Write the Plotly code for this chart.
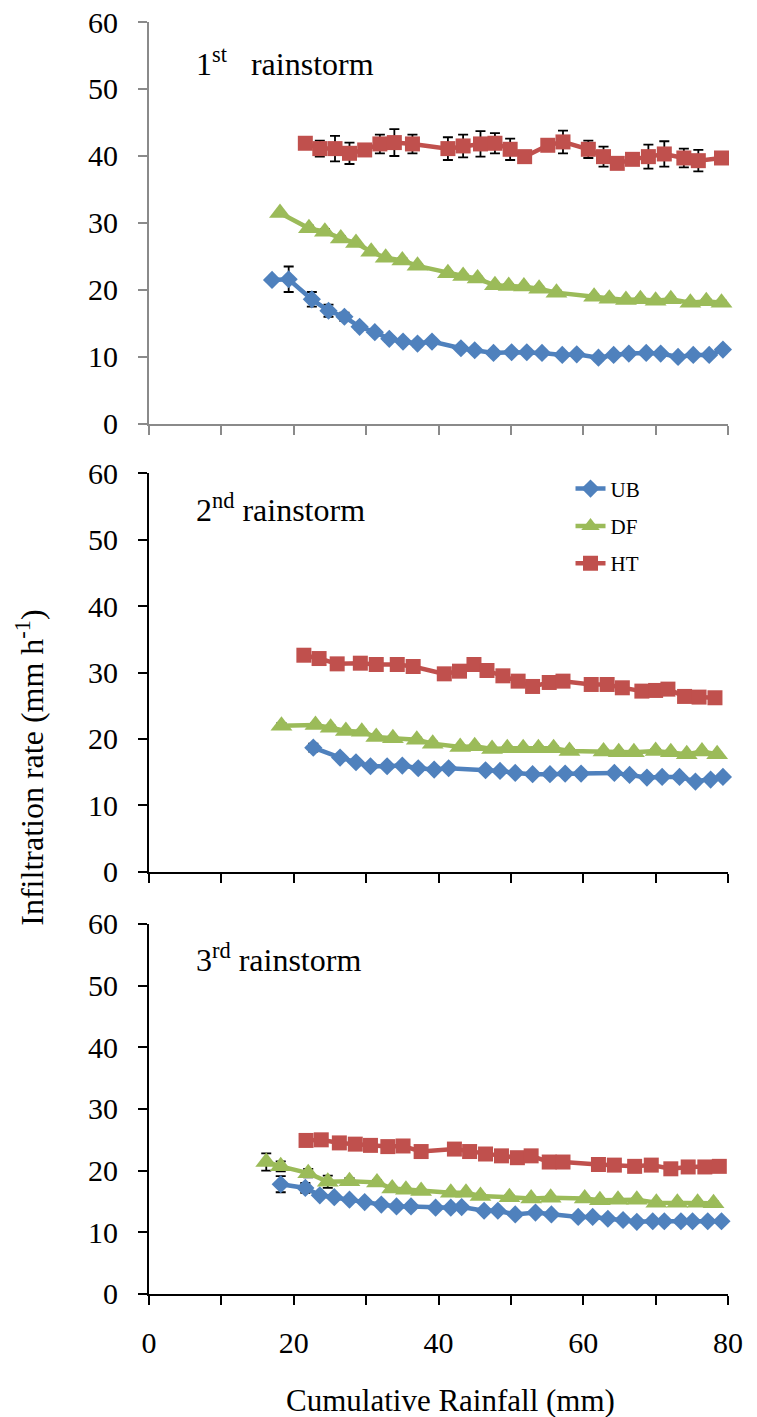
import plotly.graph_objects as go

# ---------------- data ----------------
series_names = ["UB", "DF", "HT"]
colors = {"UB": "#4F81BD", "DF": "#9BBB59", "HT": "#C0504D"}
symbols = {"UB": "diamond", "DF": "triangle-up", "HT": "square"}
msizes = {"UB": 14, "DF": 19, "HT": 15}

panel_labels = ["1<sup>st</sup>&nbsp;&nbsp; rainstorm", "2<sup>nd</sup> rainstorm", "3<sup>rd</sup> rainstorm"]
x_tick_vals = [0, 10, 20, 30, 40, 50, 60, 70, 80]
x_tick_text = ["0", " ", "20", " ", "40", " ", "60", " ", "80"]
y_tick_vals = [0, 10, 20, 30, 40, 50, 60]

# 1st rainstorm
rain1_ub = [17.0, 19.3, 22.5, 24.8, 27.0, 29.1, 31.2, 33.2, 35.1, 37.1, 39.1, 43.1, 45.0, 47.6, 50.1, 52.2, 54.3, 57.1, 59.1, 62.1, 64.2, 66.3, 68.7, 70.7, 73.1, 75.2, 77.4, 79.3]
inf1_ub = [21.5, 21.6, 18.6, 16.9, 16.0, 14.5, 13.7, 12.7, 12.3, 12.0, 12.3, 11.3, 11.0, 10.6, 10.7, 10.7, 10.6, 10.3, 10.4, 9.9, 10.3, 10.5, 10.6, 10.5, 10.0, 10.3, 10.3, 11.1]
err1_ub = [0.3, 1.9, 1.1, 0.9, 0.6, 0.4, 0.4, 0.4, 0.4, 0.4, 0.4, 0.4, 0.3, 0.4, 0.3, 0.3, 0.3, 0.3, 0.3, 0.4, 0.3, 0.3, 0.3, 0.3, 0.3, 0.3, 0.3, 0.3]

rain1_df = [18.1, 22.1, 24.3, 26.5, 28.6, 30.7, 32.7, 35.0, 37.1, 41.3, 43.4, 45.4, 47.8, 49.7, 51.8, 53.9, 56.3, 61.5, 63.6, 65.9, 67.9, 70.0, 72.1, 74.8, 77.0, 79.1]
inf1_df = [31.5, 29.2, 28.7, 27.7, 27.0, 25.7, 24.8, 24.4, 23.6, 22.5, 22.1, 21.7, 20.7, 20.6, 20.5, 20.2, 19.6, 19.0, 18.7, 18.5, 18.6, 18.4, 18.6, 18.1, 18.3, 18.1]
err1_df = [0.3, 0.4, 0.4, 0.3, 0.3, 0.3, 0.3, 0.3, 0.3, 0.3, 0.3, 0.3, 0.3, 0.3, 0.3, 0.3, 0.3, 0.3, 0.3, 0.3, 0.3, 0.3, 0.3, 0.3, 0.3, 0.3]

rain1_ht = [21.6, 23.6, 25.7, 27.7, 29.8, 31.9, 33.9, 36.4, 41.3, 43.4, 45.8, 47.8, 49.9, 51.9, 55.1, 57.2, 60.7, 62.8, 64.7, 66.8, 69.0, 71.2, 73.9, 75.9, 79.1]
inf1_ht = [41.9, 41.1, 41.1, 40.4, 40.9, 41.8, 42.0, 41.8, 41.1, 41.5, 41.8, 41.9, 41.0, 39.9, 41.6, 42.1, 41.0, 39.9, 38.9, 39.5, 39.9, 40.3, 39.7, 39.3, 39.7]
err1_ht = [0.5, 1.2, 1.9, 1.6, 0.6, 1.4, 2.0, 1.4, 1.7, 1.7, 1.9, 1.5, 1.6, 0.8, 0.5, 1.7, 1.3, 1.5, 0.5, 0.5, 1.8, 1.9, 1.4, 1.6, 0.3]

# 2nd rainstorm
rain2_ub = [22.7, 26.4, 28.6, 30.6, 32.9, 35.0, 37.2, 39.4, 41.4, 46.5, 48.5, 50.6, 53.0, 55.4, 57.5, 59.7, 64.3, 66.4, 68.8, 70.9, 73.3, 75.5, 77.6, 79.3]
inf2_ub = [18.7, 17.2, 16.5, 15.9, 15.9, 16.0, 15.6, 15.4, 15.6, 15.3, 15.2, 14.9, 14.7, 14.7, 14.8, 14.8, 14.9, 14.6, 14.2, 14.3, 14.3, 13.6, 13.9, 14.3]
err2_ub = [0.6, 0.3, 0.3, 0.3, 0.3, 0.3, 0.3, 0.3, 0.3, 0.3, 0.3, 0.3, 0.3, 0.3, 0.3, 0.3, 0.3, 0.3, 0.3, 0.3, 0.3, 0.3, 0.3, 0.3]

rain2_df = [18.3, 23.0, 25.1, 27.2, 29.4, 31.4, 33.7, 37.0, 39.2, 43.0, 45.0, 47.4, 49.5, 51.7, 53.8, 55.9, 58.1, 62.8, 64.9, 67.0, 70.0, 72.1, 74.3, 76.4, 78.5]
inf2_df = [22.0, 22.1, 21.7, 21.2, 21.1, 20.3, 20.1, 19.9, 19.3, 18.8, 18.9, 18.5, 18.6, 18.6, 18.6, 18.6, 18.2, 18.1, 18.0, 18.0, 18.2, 18.0, 17.7, 18.1, 17.7]
err2_df = [0.4, 0.3, 0.3, 0.3, 0.3, 0.3, 0.3, 0.3, 0.3, 0.3, 0.3, 0.3, 0.3, 0.3, 0.3, 0.3, 0.3, 0.3, 0.3, 0.3, 0.3, 0.3, 0.3, 0.3, 0.3]

rain2_ht = [21.4, 23.5, 26.0, 29.2, 31.4, 34.3, 36.5, 40.8, 42.9, 44.9, 46.7, 48.9, 51.0, 53.0, 55.3, 57.2, 61.1, 63.3, 65.4, 68.1, 70.0, 71.7, 74.0, 76.0, 78.2]
inf2_ht = [32.6, 32.1, 31.3, 31.4, 31.2, 31.2, 30.9, 29.8, 30.2, 31.2, 30.3, 29.5, 28.7, 27.9, 28.5, 28.7, 28.2, 28.2, 27.7, 27.2, 27.3, 27.5, 26.4, 26.3, 26.2]
err2_ht = [0.4, 0.3, 0.3, 0.3, 0.3, 0.3, 0.3, 0.3, 0.3, 0.3, 0.3, 0.3, 0.3, 0.3, 0.3, 0.3, 0.3, 0.3, 0.3, 0.3, 0.3, 0.3, 0.3, 0.3, 0.3]

# 3rd rainstorm
rain3_ub = [18.2, 21.6, 23.6, 25.6, 27.7, 29.8, 32.1, 34.2, 36.2, 39.6, 41.7, 43.2, 46.3, 48.2, 50.6, 53.4, 55.6, 59.3, 61.3, 63.4, 65.5, 67.4, 69.6, 71.2, 73.5, 75.1, 77.2, 79.1]
inf3_ub = [17.8, 17.2, 16.0, 15.7, 15.3, 14.9, 14.5, 14.2, 14.2, 14.0, 14.0, 14.1, 13.5, 13.5, 12.9, 13.2, 12.9, 12.5, 12.5, 12.2, 12.0, 11.7, 11.8, 11.8, 11.8, 11.8, 11.8, 11.8]
err3_ub = [1.3, 0.8, 0.3, 0.3, 0.3, 0.3, 0.3, 0.3, 0.3, 0.3, 0.3, 0.3, 0.3, 0.3, 0.3, 0.3, 0.3, 0.3, 0.3, 0.3, 0.3, 0.3, 0.3, 0.3, 0.3, 0.3, 0.3, 0.3]

rain3_df = [16.2, 18.2, 22.0, 24.7, 27.7, 31.5, 33.6, 35.5, 37.6, 41.7, 43.8, 45.8, 49.8, 52.8, 55.5, 60.2, 62.3, 64.8, 67.4, 70.1, 73.0, 75.8, 78.0]
inf3_df = [21.4, 20.7, 19.6, 18.2, 18.3, 18.1, 17.1, 16.9, 16.7, 16.4, 16.4, 15.9, 15.7, 15.5, 15.6, 15.5, 15.2, 15.3, 15.3, 14.8, 14.8, 14.8, 14.7]
err3_df = [1.4, 0.8, 0.7, 1.0, 0.5, 0.4, 0.3, 0.3, 0.3, 0.3, 0.3, 0.3, 0.3, 0.3, 0.3, 0.3, 0.3, 0.3, 0.3, 0.3, 0.3, 0.3, 0.3]

rain3_ht = [21.7, 23.8, 26.3, 28.5, 30.6, 33.0, 35.1, 37.6, 42.2, 44.3, 46.5, 48.7, 50.9, 52.8, 55.3, 57.2, 62.1, 64.3, 67.1, 69.4, 72.1, 74.5, 76.8, 78.8]
inf3_ht = [24.9, 25.0, 24.5, 24.3, 24.1, 23.9, 24.0, 23.1, 23.5, 23.1, 22.7, 22.4, 22.1, 22.4, 21.4, 21.4, 21.0, 20.9, 20.7, 20.9, 20.3, 20.6, 20.6, 20.7]
err3_ht = [0.3, 0.3, 0.3, 0.3, 0.3, 0.3, 0.3, 0.3, 0.3, 0.3, 0.3, 0.3, 0.3, 0.3, 0.3, 0.3, 0.3, 0.3, 0.3, 0.3, 0.3, 0.3, 0.3, 0.3]

panels = [
    {"UB": (rain1_ub, inf1_ub, err1_ub), "DF": (rain1_df, inf1_df, err1_df), "HT": (rain1_ht, inf1_ht, err1_ht)},
    {"UB": (rain2_ub, inf2_ub, err2_ub), "DF": (rain2_df, inf2_df, err2_df), "HT": (rain2_ht, inf2_ht, err2_ht)},
    {"UB": (rain3_ub, inf3_ub, err3_ub), "DF": (rain3_df, inf3_df, err3_df), "HT": (rain3_ht, inf3_ht, err3_ht)},
]

# ---------------- figure ----------------
FONT = "Liberation Serif"
W, H = 757, 1417
ML, MR, MT, MB = 149, 29, 22, 123
domains = [[0.684, 1.0], [0.3318, 0.6454], [0.0, 0.2909]]
axis_colors = ["#8a8a8a", "#000000", "#000000"]

fig = go.Figure()
for i, pdata in enumerate(panels):
    xa = "x" if i == 0 else f"x{i+1}"
    ya = "y" if i == 0 else f"y{i+1}"
    for name in series_names:
        xs, ys, es = pdata[name]
        fig.add_trace(go.Scatter(
            x=xs, y=ys, xaxis=xa, yaxis=ya, name=name,
            mode="lines+markers", legendgroup=name, showlegend=(i == 0),
            line=dict(color=colors[name], width=4.5),
            marker=dict(symbol=symbols[name], size=msizes[name], color=colors[name]),
            error_y=dict(type="data", array=es, visible=True, color="black", thickness=1.8, width=5),
            cliponaxis=False,
        ))

layout = dict(
    template="none",
    width=W, height=H,
    margin=dict(l=ML, r=MR, t=MT, b=MB, pad=0, autoexpand=False),
    paper_bgcolor="white", plot_bgcolor="white",
    font=dict(family=FONT, color="black", size=30),
    showlegend=True,
    legend=dict(x=0.728, y=0.649, xanchor="left", yanchor="top",
                font=dict(family=FONT, size=21, color="black"),
                bgcolor="rgba(255,255,255,0)", tracegroupgap=7,
                traceorder="grouped"),
)
for i in range(3):
    xkey = "xaxis" if i == 0 else f"xaxis{i+1}"
    ykey = "yaxis" if i == 0 else f"yaxis{i+1}"
    yref = "y" if i == 0 else f"y{i+1}"
    xref = "x" if i == 0 else f"x{i+1}"
    layout[xkey] = dict(
        domain=[0, 1], anchor=yref, range=[0, 80], automargin=False,
        tickvals=x_tick_vals, ticktext=x_tick_text,
        showticklabels=(i == 2),
        ticks="outside", ticklen=9, tickwidth=2, tickcolor=axis_colors[i],
        showline=True, linecolor=axis_colors[i], linewidth=2,
        showgrid=False, zeroline=False,
        tickfont=dict(family=FONT, size=30, color="black"),
        ticklabelstandoff=12,
    )
    layout[ykey] = dict(
        domain=domains[i], anchor=xref, range=[0, 60], automargin=False,
        tickvals=y_tick_vals,
        ticks="outside", ticklen=9, tickwidth=2, tickcolor=axis_colors[i],
        showline=True, linecolor=axis_colors[i], linewidth=2,
        showgrid=False, zeroline=False,
        tickfont=dict(family=FONT, size=30, color="black"),
        ticklabelstandoff=14,
    )
fig.update_layout(**layout)

label_y = [54.0, 54.7, 54.5]
for i in range(3):
    xref = "x" if i == 0 else f"x{i+1}"
    yref = "y" if i == 0 else f"y{i+1}"
    fig.add_annotation(x=6.2, y=label_y[i], xref=xref, yref=yref,
                       text=panel_labels[i], showarrow=False,
                       xanchor="left", yanchor="middle",
                       font=dict(family=FONT, size=32, color="black"))

fig.add_annotation(x=0.52, y=-0.084, xref="paper", yref="paper",
                   text="Cumulative Rainfall (mm)", showarrow=False,
                   xanchor="center", yanchor="middle",
                   font=dict(family=FONT, size=31, color="black"))
fig.add_annotation(x=-0.205, y=0.414, xref="paper", yref="paper",
                   text="Infiltration rate (mm h<sup>-1</sup>)", showarrow=False,
                   textangle=-90, xanchor="center", yanchor="middle",
                   font=dict(family=FONT, size=32, color="black"))

fig.write_html("out.html")
